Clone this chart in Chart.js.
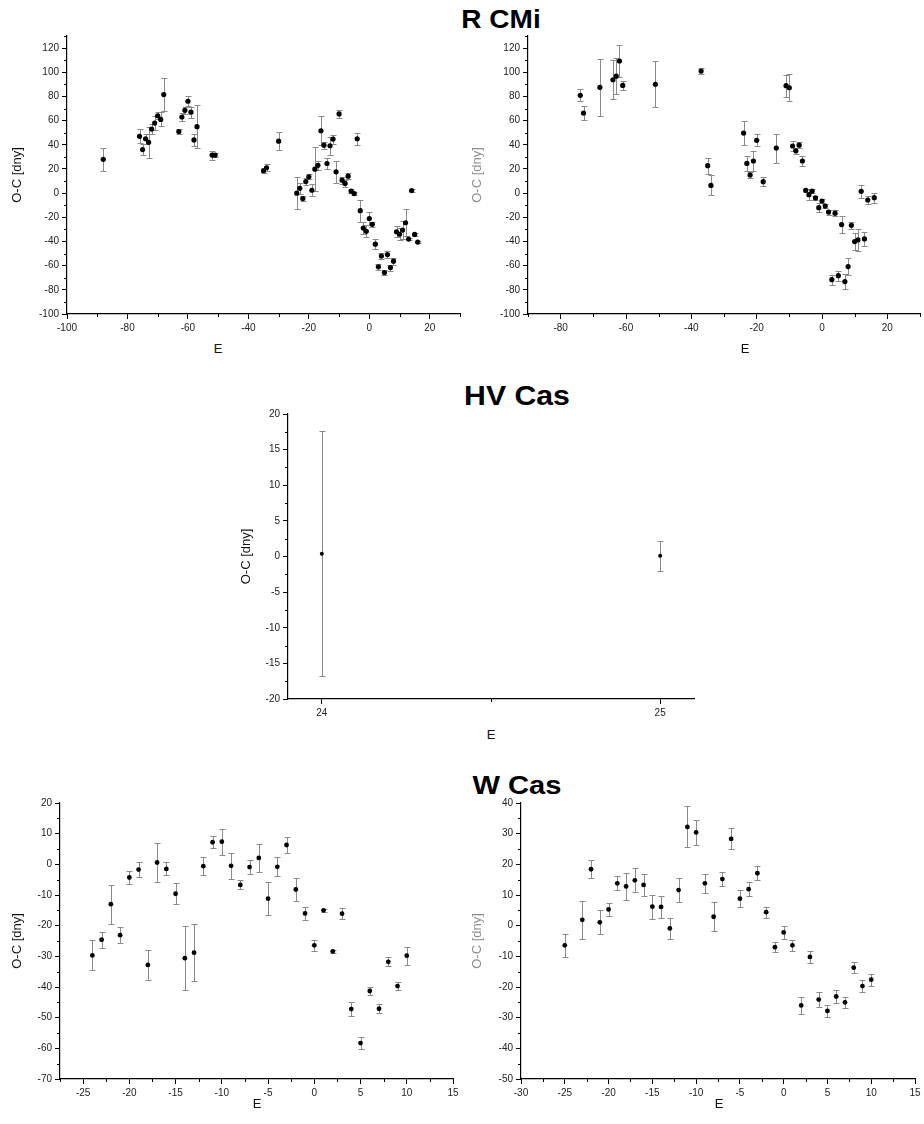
<!DOCTYPE html>
<html>
<head>
<meta charset="utf-8">
<script src="https://cdn.jsdelivr.net/npm/chart.js@4.4.1/dist/chart.umd.min.js"></script>
<style>
  html, body { margin: 0; padding: 0; background: #fff; overflow: hidden; }
  #page { position: relative; width: 924px; height: 1124px; font-family: "Liberation Sans", Arial, sans-serif; }
  .panel { position: absolute; }
  .star { position: absolute; font-weight: bold; color: #000; white-space: nowrap; transform: translate(-50%, -50%) scaleX(1.12); }
  .xlabel { position: absolute; font-size: 13px; color: #111; transform: translate(-50%, -50%); }
</style>
</head>
<body>
<div id="page">
  <div class="star" style="left:501px; top:19px; font-size:25px;">R CMi</div>
  <div class="star" style="left:517px; top:396px; font-size:27px;">HV Cas</div>
  <div class="star" style="left:517px; top:785px; font-size:26px;">W Cas</div>
</div>
<script>
// R CMi, first set of minima
const rcmiEpochA = [-88, -76, -75, -74, -73, -72, -71, -70, -69, -68, -63, -62, -61, -60, -59, -58, -57, -52, -51,
  -35, -34, -30, -24, -23, -22, -21, -20, -19, -18, -17, -16, -15, -14, -13, -12, -11, -10, -9, -8, -7, -6, -5, -4, -3, -2, -1,
  0, 1, 2, 3, 4, 5, 6, 7, 8, 9, 10, 11, 12, 13, 14, 15, 16];
const rcmiOcA = [28, 47, 36, 45, 42, 53, 58, 64, 61, 81.5, 51, 63, 68.5, 76, 67, 44, 55, 31.5, 31.5,
  18.5, 21, 43, 0, 4, -4.5, 9.6, 13.5, 2.4, 19.8, 23, 51.6, 39.7, 24.5, 39.2, 44.7, 17.6, 65.5, 10.7, 8, 14, 1.6, -0.4, 45, -14.5, -28.9, -31.6,
  -21, -25.8, -42.2, -61, -52, -65.7, -50.8, -61.6, -56.3, -32, -34, -30.6, -24.5, -38, 2.1, -34.2, -40.5];
const rcmiErrA = [9.5, 5.8, 4.5, 4, 13, 4, 5.5, 3, 5.8, 13.7, 2.3, 3.5, 3, 4, 4.5, 4.7, 18, 3.7, 1.5,
  2, 3, 7.5, 13, 4.5, 2.2, 3, 2, 5, 18.4, 3.5, 12, 3, 4.5, 7.5, 3.7, 9, 3, 3, 3, 2.5, 1.5, 1.5, 5, 9, 5, 5,
  5.5, 2, 4, 2.5, 2.5, 2, 3, 2.5, 3, 4.5, 4.8, 7.5, 11, 1, 1, 1.5, 1];

// R CMi, second set of minima
const rcmiEpochB = [-74, -73, -68, -64, -63, -62, -61, -51, -37, -35, -34, -24, -23, -22, -21, -20, -18, -14,
  -11, -10, -9, -8, -7, -6, -5, -4, -3, -2, -1, 0, 1, 2, 3, 4, 5, 6, 7, 8, 9, 10, 11, 12, 13, 14, 16];
const rcmiOcB = [80.9, 66.2, 87.5, 93.8, 96.8, 109.3, 89.1, 90, 101, 22.7, 6.4, 49.7, 24.6, 15, 26.6, 43.7, 9.5, 37.3,
  88.9, 87.2, 39, 35, 39.7, 26.6, 2.3, -1.3, 1.7, -4, -12, -6.5, -10.7, -15.7, -71.6, -16.6, -68.3, -26, -73.2, -60.8, -26.6, -40.1, -38.7, 1.5, -37.9, -5.7, -3.8];
const rcmiErrB = [5, 5.5, 23.5, 16, 14.6, 13, 3.5, 19, 2.3, 6.5, 8.3, 9.7, 6, 2.7, 8, 5, 3.5, 12,
  9, 11, 4.5, 2.5, 2.5, 4, 1, 4.5, 1.5, 2, 3.5, 2, 2, 2, 4, 2.3, 4.2, 7, 6, 7, 2.7, 7, 9, 5.4, 6, 3.3, 4];

// HV Cas
const hvEpoch = [24, 25];
const hvOc = [0.4, 0.1];
const hvErr = [17.2, 2.1];

// W Cas, first set of minima
const wEpochA = [-24, -23, -22, -21, -20, -19, -18, -17, -16, -15, -14, -13, -12, -11, -10, -9, -8, -7, -6, -5, -4, -3, -2, -1,
  0, 1, 2, 3, 4, 5, 6, 7, 8, 9, 10];
const wOcA = [-29.7, -24.6, -13, -23.1, -4.3, -1.7, -32.8, 0.6, -1.5, -9.6, -30.6, -28.8, -0.6, 7.2, 7.4, -0.5, -6.7, -0.9, 2.1, -11.2, -0.8, 6.3, -8.2, -16,
  -26.4, -15, -28.4, -16.1, -47.2, -58.3, -41.3, -47.1, -31.8, -39.7, -29.8];
const wErrA = [4.9, 2.6, 6.3, 2.6, 2.2, 2.3, 4.8, 6.3, 2.1, 3.4, 10.5, 9.2, 3, 2, 4.2, 4.3, 1.5, 2.3, 4.6, 5.4, 3.1, 2.5, 3.6, 2,
  1.7, 0.5, 0.5, 1.8, 2.3, 2, 1.3, 1.4, 1.5, 1.3, 3];

// W Cas, second set of minima
const wEpochB = [-25, -23, -22, -21, -20, -19, -18, -17, -16, -15, -14, -13, -12, -11, -10, -9, -8, -7, -6, -5, -4, -3, -2, -1,
  0, 1, 2, 3, 4, 5, 6, 7, 8, 9, 10];
const wOcB = [-6.4, 1.9, 18.4, 1.1, 5.3, 13.8, 12.8, 14.8, 13.3, 6.2, 6.1, -0.9, 11.6, 32.2, 30.4, 13.8, 2.9, 15.2, 28.3, 8.8, 11.9, 17.1, 4.4, -7,
  -2.2, -6.4, -26, -10.2, -24.1, -27.8, -23.1, -25, -13.7, -19.7, -17.6];
const wErrB = [3.7, 6.2, 2.9, 3.9, 2, 2.3, 4.4, 3.9, 3.7, 3.9, 3.7, 3.3, 3.9, 6.7, 4.1, 3.1, 4.7, 2.4, 3.4, 2.8, 2.2, 2.2, 1.8, 1.6,
  2, 1.8, 2.8, 2, 2.5, 2, 2, 1.7, 1.8, 2, 2];

// labelled tick values
const rcmiYTicks = [-100, -80, -60, -40, -20, 0, 20, 40, 60, 80, 100, 120];
const rcmiXTicksA = [-100, -80, -60, -40, -20, 0, 20];
const rcmiXTicksB = [-80, -60, -40, -20, 0, 20];
const hvYTicks = [-20, -15, -10, -5, 0, 5, 10, 15, 20];
const hvXTicks = [24, 25];
const wYTicksA = [-70, -60, -50, -40, -30, -20, -10, 0, 10, 20];
const wYTicksB = [-50, -40, -30, -20, -10, 0, 10, 20, 30, 40];
const wXTicksA = [-25, -20, -15, -10, -5, 0, 5, 10, 15];
const wXTicksB = [-30, -25, -20, -15, -10, -5, 0, 5, 10, 15];

const FONT = '"Liberation Sans", Arial, sans-serif';

// vertical error bars with small caps, drawn under the points
const errorBars = {
  id: 'errorBars',
  beforeDatasetsDraw(chart) {
    const { ctx, scales: { x, y } } = chart;
    chart.data.datasets.forEach(ds => {
      if (!ds.errors) return;
      ctx.save();
      ctx.strokeStyle = '#8a8a8a';
      ctx.lineWidth = 1;
      ds.data.forEach((p, i) => {
        const e = ds.errors[i];
        const px = Math.round(x.getPixelForValue(p.x)) + 0.5;
        const top = Math.round(y.getPixelForValue(p.y + e)) + 0.5;
        const bot = Math.round(y.getPixelForValue(p.y - e)) + 0.5;
        ctx.beginPath();
        ctx.moveTo(px, top); ctx.lineTo(px, bot);
        ctx.moveTo(px - 3, top); ctx.lineTo(px + 3, top);
        ctx.moveTo(px - 3, bot); ctx.lineTo(px + 3, bot);
        ctx.stroke();
      });
      ctx.restore();
    });
  }
};

// short unlabelled ticks between the labelled ones
const minorTicks = {
  id: 'minorTicks',
  afterDraw(chart, args, opts) {
    const { ctx, chartArea, scales } = chart;
    ctx.save();
    ctx.strokeStyle = '#000';
    ctx.lineWidth = 1;
    ['x', 'y'].forEach(id => {
      const s = scales[id];
      const step = opts[id];
      const majors = s.ticks.map(t => t.value);
      for (let v = Math.ceil(s.min / step - 1e-9) * step; v <= s.max + 1e-9; v += step) {
        if (majors.some(m => Math.abs(m - v) < 1e-6)) continue;
        const p = Math.round(s.getPixelForValue(v)) + 0.5;
        ctx.beginPath();
        if (id === 'x') {
          ctx.moveTo(p, chartArea.bottom); ctx.lineTo(p, chartArea.bottom + 3);
        } else {
          ctx.moveTo(chartArea.left, p); ctx.lineTo(chartArea.left - 3, p);
        }
        ctx.stroke();
      }
    });
    ctx.restore();
  }
};

function axis(min, max, ticks, extra) {
  return Object.assign({
    type: 'linear',
    min: min,
    max: max,
    afterBuildTicks: s => { s.ticks = ticks.map(v => ({ value: v })); },
    grid: { drawOnChartArea: false, drawTicks: true, tickLength: 5, color: '#000' },
    border: { display: true, color: '#000', width: 1.2 },
    ticks: { autoSkip: false, maxRotation: 0, padding: 3, color: '#222', font: { family: FONT, size: 10 } }
  }, extra);
}

function makePanel(p) {
  const page = document.getElementById('page');
  const wrap = document.createElement('div');
  wrap.className = 'panel';
  const padTop = 10, xHeight = 25;
  const plotW = p.right - p.left, plotH = p.bottom - p.top;
  const w = p.yWidth + plotW + p.padRight;
  const h = padTop + plotH + xHeight;
  wrap.style.left = (p.left - p.yWidth) + 'px';
  wrap.style.top = (p.top - padTop) + 'px';
  const canvas = document.createElement('canvas');
  canvas.width = w;
  canvas.height = h;
  canvas.style.width = w + 'px';
  canvas.style.height = h + 'px';
  wrap.appendChild(canvas);
  page.appendChild(wrap);

  const lbl = document.createElement('div');
  lbl.className = 'xlabel';
  lbl.textContent = 'E';
  lbl.style.left = p.eLabel[0] + 'px';
  lbl.style.top = p.eLabel[1] + 'px';
  page.appendChild(lbl);

  new Chart(canvas, {
    type: 'scatter',
    data: {
      datasets: [{
        data: p.epoch.map((e, i) => ({ x: e, y: p.oc[i] })),
        errors: p.err,
        pointRadius: p.radius,
        pointBorderWidth: 0,
        backgroundColor: '#000',
        borderColor: '#000'
      }]
    },
    options: {
      responsive: false,
      animation: false,
      layout: { padding: { top: padTop, right: p.padRight, left: 0, bottom: 0 } },
      plugins: {
        legend: { display: false },
        tooltip: { enabled: false },
        minorTicks: { x: p.xMinor, y: p.yMinor }
      },
      scales: {
        x: axis(p.xMin, p.xMax, p.xTicks, { afterFit: s => { s.height = xHeight; } }),
        y: axis(p.yMin, p.yMax, p.yTicks, {
          afterFit: s => { s.width = p.yWidth; },
          title: { display: true, text: 'O-C [dny]', color: p.titleColor, font: { family: FONT, size: 13 }, padding: { top: 4, bottom: 4 } }
        })
      }
    },
    plugins: [errorBars, minorTicks]
  });
}

makePanel({
  epoch: rcmiEpochA, oc: rcmiOcA, err: rcmiErrA, radius: 2.6,
  left: 67, top: 36, right: 460, bottom: 314, yWidth: 61, padRight: 8,
  xMin: -100, xMax: 30, xTicks: rcmiXTicksA, xMinor: 10,
  yMin: -100, yMax: 130, yTicks: rcmiYTicks, yMinor: 10,
  titleColor: '#111', eLabel: [218, 348]
});

makePanel({
  epoch: rcmiEpochB, oc: rcmiOcB, err: rcmiErrB, radius: 2.6,
  left: 528, top: 36, right: 922, bottom: 314, yWidth: 62, padRight: 2,
  xMin: -90, xMax: 30, xTicks: rcmiXTicksB, xMinor: 10,
  yMin: -100, yMax: 130, yTicks: rcmiYTicks, yMinor: 10,
  titleColor: '#8c8c8c', eLabel: [745, 348]
});

makePanel({
  epoch: hvEpoch, oc: hvOc, err: hvErr, radius: 2,
  left: 288, top: 414, right: 694, bottom: 699, yWidth: 53, padRight: 8,
  xMin: 23.9, xMax: 25.1, xTicks: hvXTicks, xMinor: 0.5,
  yMin: -20, yMax: 20, yTicks: hvYTicks, yMinor: 2.5,
  titleColor: '#111', eLabel: [491, 734]
});

makePanel({
  epoch: wEpochA, oc: wOcA, err: wErrA, radius: 2.4,
  left: 60, top: 803, right: 453, bottom: 1079, yWidth: 54, padRight: 10,
  xMin: -27.5, xMax: 15, xTicks: wXTicksA, xMinor: 2.5,
  yMin: -70, yMax: 20, yTicks: wYTicksA, yMinor: 5,
  titleColor: '#111', eLabel: [257, 1103]
});

makePanel({
  epoch: wEpochB, oc: wOcB, err: wErrB, radius: 2.4,
  left: 521, top: 803, right: 915, bottom: 1079, yWidth: 55, padRight: 10,
  xMin: -30, xMax: 15, xTicks: wXTicksB, xMinor: 2.5,
  yMin: -50, yMax: 40, yTicks: wYTicksB, yMinor: 5,
  titleColor: '#8c8c8c', eLabel: [719, 1103]
});
</script>
</body>
</html>
